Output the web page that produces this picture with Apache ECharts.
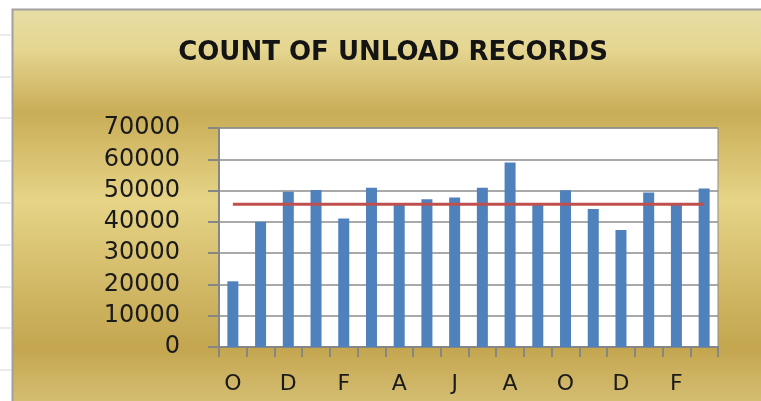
<!DOCTYPE html>
<html>
<head>
<meta charset="utf-8">
<script src="https://cdn.jsdelivr.net/npm/echarts@6/dist/echarts.min.js"></script>
<style>
  html, body { margin: 0; padding: 0; background: #fff; }
  #main { width: 761px; height: 401px; }
</style>
</head>
<body>
<div id="main"></div>
<script>
// months, Oct .. Mar of the year after next
var months = ['O', 'N', 'D', 'J', 'F', 'M', 'A', 'M', 'J', 'J', 'A', 'S', 'O', 'N', 'D', 'J', 'F', 'M'];
// count of unload records per month
var unloadCount = [21000, 40000, 49600, 50200, 41100, 50900, 45400, 47200, 47800, 50900, 59000, 45400, 50100, 44100, 37400, 49400, 45400, 50700];
// average line (red)
var avgLine = [45600, 45600, 45600, 45600, 45600, 45600, 45600, 45600, 45600, 45600, 45600, 45600, 45600, 45600, 45600, 45600, 45600, 45600];
// spreadsheet row lines peeking out on the left
var sheetRows = [35, 77, 118, 161, 203, 245, 287, 328, 370];

var chart = echarts.init(document.getElementById('main'));

var gfx = [
  { type: 'rect', shape: { x: 0, y: 0, width: 12, height: 401 }, style: { fill: '#fff' }, silent: true },
  { type: 'rect', shape: { x: 0, y: 0, width: 761, height: 9 }, style: { fill: '#fff' }, silent: true }
];
sheetRows.forEach(function (y) {
  gfx.push({ type: 'line', shape: { x1: 0, y1: y, x2: 11, y2: y }, style: { stroke: '#d4d7dc', lineWidth: 1 }, silent: true });
});
// chart frame
gfx.push({ type: 'polyline', shape: { points: [[12.5, 401], [12.5, 9.5], [761, 9.5]] }, style: { stroke: '#a0a0a0', lineWidth: 2, fill: null }, silent: true });

var option = {
  animation: false,
  backgroundColor: new echarts.graphic.LinearGradient(0, 0, 0, 1, [
    { offset: 0, color: '#e8deaa' },
    { offset: 0.12, color: '#e5d691' },
    { offset: 0.28, color: '#c9ad57' },
    { offset: 0.5, color: '#e6d487' },
    { offset: 0.78, color: '#cbb05c' },
    { offset: 0.87, color: '#c4a64f' },
    { offset: 1, color: '#d4bd72' }
  ]),
  title: {
    text: 'COUNT OF UNLOAD RECORDS',
    left: 388,
    textAlign: 'center',
    top: 35,
    textStyle: {
      fontFamily: 'DejaVu Sans',
      fontWeight: 'bold',
      fontSize: 26,
      color: '#141414'
    }
  },
  graphic: gfx,
  grid: {
    left: 219,
    right: 43,
    top: 128,
    bottom: 54,
    show: true,
    backgroundColor: '#fff',
    borderColor: '#8c8c8c',
    borderWidth: 1
  },
  xAxis: {
    type: 'category',
    data: months,
    boundaryGap: true,
    axisLine: { lineStyle: { color: '#868686', width: 2 } },
    axisTick: { show: true, interval: 0, length: 10, lineStyle: { color: '#868686', width: 2 } },
    axisLabel: {
      interval: 1,
      margin: 26,
      fontFamily: 'DejaVu Sans',
      fontSize: 22,
      color: '#1a1a1a'
    }
  },
  yAxis: {
    type: 'value',
    min: 0,
    max: 70000,
    interval: 10000,
    axisLine: { show: true, lineStyle: { color: '#868686', width: 2 } },
    axisTick: { show: true, length: 11, lineStyle: { color: '#868686', width: 2 } },
    axisLabel: {
      margin: 39,
      fontFamily: 'DejaVu Sans',
      fontSize: 24,
      color: '#1a1a1a',
      formatter: function (v) { return String(v); }
    },
    splitLine: { lineStyle: { color: '#8c8c8c', width: 1.5 } }
  },
  series: [{
    name: 'Unload records',
    type: 'bar',
    data: unloadCount,
    barWidth: 11,
    itemStyle: { color: '#4f81bd' }
  }, {
    name: 'Average',
    type: 'line',
    data: avgLine,
    symbol: 'none',
    lineStyle: { color: '#c0504d', width: 3 },
    z: 5
  }]
};

chart.setOption(option);
</script>
</body>
</html>
